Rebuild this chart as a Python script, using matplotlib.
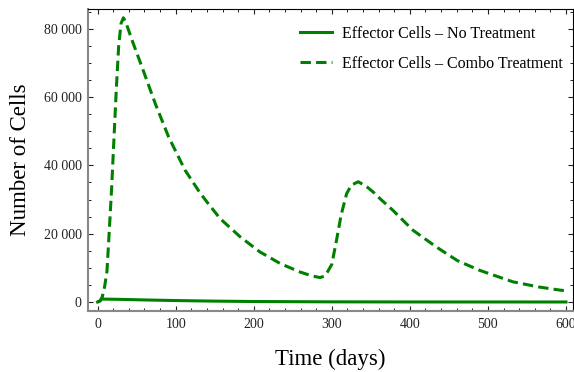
import numpy as np
import matplotlib
matplotlib.use("Agg")
import matplotlib.pyplot as plt
from matplotlib.ticker import MultipleLocator, FuncFormatter

# effector cells, combo treatment (dashed)
combo_t = [0, 3, 6, 9, 12, 15, 18, 21, 24, 27, 30, 33, 36, 44, 57, 74, 91, 112,
           131, 140, 157, 183, 208, 234, 259, 275, 285, 291, 295, 300, 306, 312,
           319, 325, 334, 345, 353, 362, 378, 404, 434, 446, 461, 489, 532, 565,
           593, 600]
combo_v = [0, 300, 1500, 4500, 9000, 21000, 33500, 48000, 62500, 75000, 81500,
           83200, 82000, 76700, 68700, 58000, 48300, 38600, 32000, 29300, 24400,
           19000, 14650, 11250, 8800, 7600, 7150, 7600, 9000, 11000, 18000, 25500,
           31700, 34200, 35200, 33700, 32200, 30200, 26900, 21000, 16100, 14300,
           12100, 9300, 5900, 4400, 3450, 3300]

# effector cells, no treatment (solid)
none_t = [0, 3, 6, 8, 15, 30, 60, 100, 150, 200, 300, 400, 500, 600]
none_v = [0, 300, 1000, 850, 820, 760, 600, 420, 250, 140, 40, 10, 3, 1]

labels = ["Effector Cells \u2013 No Treatment", "Effector Cells \u2013 Combo Treatment"]

plt.rcParams['font.family'] = ['Liberation Serif', 'DejaVu Serif']

fig = plt.figure(figsize=(5.74, 3.72), dpi=100)
ax = fig.add_axes([88 / 574, 1 - 311 / 372, (573 - 88) / 574, (311 - 9) / 372])

green = "#008000"
ax.plot(none_t, none_v, color=green, lw=2.2, label=labels[0])
ax.plot(combo_t, combo_v, color=green, lw=2.2, dashes=(3.4, 1.7), label=labels[1])

ax.set_xlim(-12.3, 609)
ax.set_ylim(-2640, 85770)

ax.xaxis.set_major_locator(MultipleLocator(100))
ax.xaxis.set_minor_locator(MultipleLocator(20))
ax.yaxis.set_major_locator(MultipleLocator(20000))
ax.yaxis.set_minor_locator(MultipleLocator(5000))
ax.yaxis.set_major_formatter(FuncFormatter(lambda v, p: f"{int(v):,}".replace(",", " ")))

ax.tick_params(which='both', direction='in', top=True, right=True, colors='#222222',
               labelsize=10)
ax.tick_params(which='major', length=3.6, width=0.8)
ax.tick_params(which='minor', length=2.4, width=0.7)
ax.tick_params(axis='x', pad=5)
ax.tick_params(axis='y', pad=4.5)

for s in ['left', 'bottom']:
    ax.spines[s].set_color('#888888')
    ax.spines[s].set_linewidth(1.5)
for s in ['top', 'right']:
    ax.spines[s].set_color('black')
    ax.spines[s].set_linewidth(0.8)

fig.text(330 / 574, 1 - 359 / 372, "Time (days)", fontsize=16.5, ha='center', va='center')
fig.text(21 / 574, 1 - 160 / 372, "Number of Cells", fontsize=16.5, ha='center',
         va='center', rotation=90)

ax.legend(loc='upper left', bbox_to_anchor=(300 / 574, 1 - 26 / 372),
          bbox_transform=fig.transFigure, frameon=False, fontsize=11.5,
          handlelength=2.0, handletextpad=0.6, labelspacing=0.85, borderpad=0,
          borderaxespad=0)

fig.savefig("out.png", dpi=100)
